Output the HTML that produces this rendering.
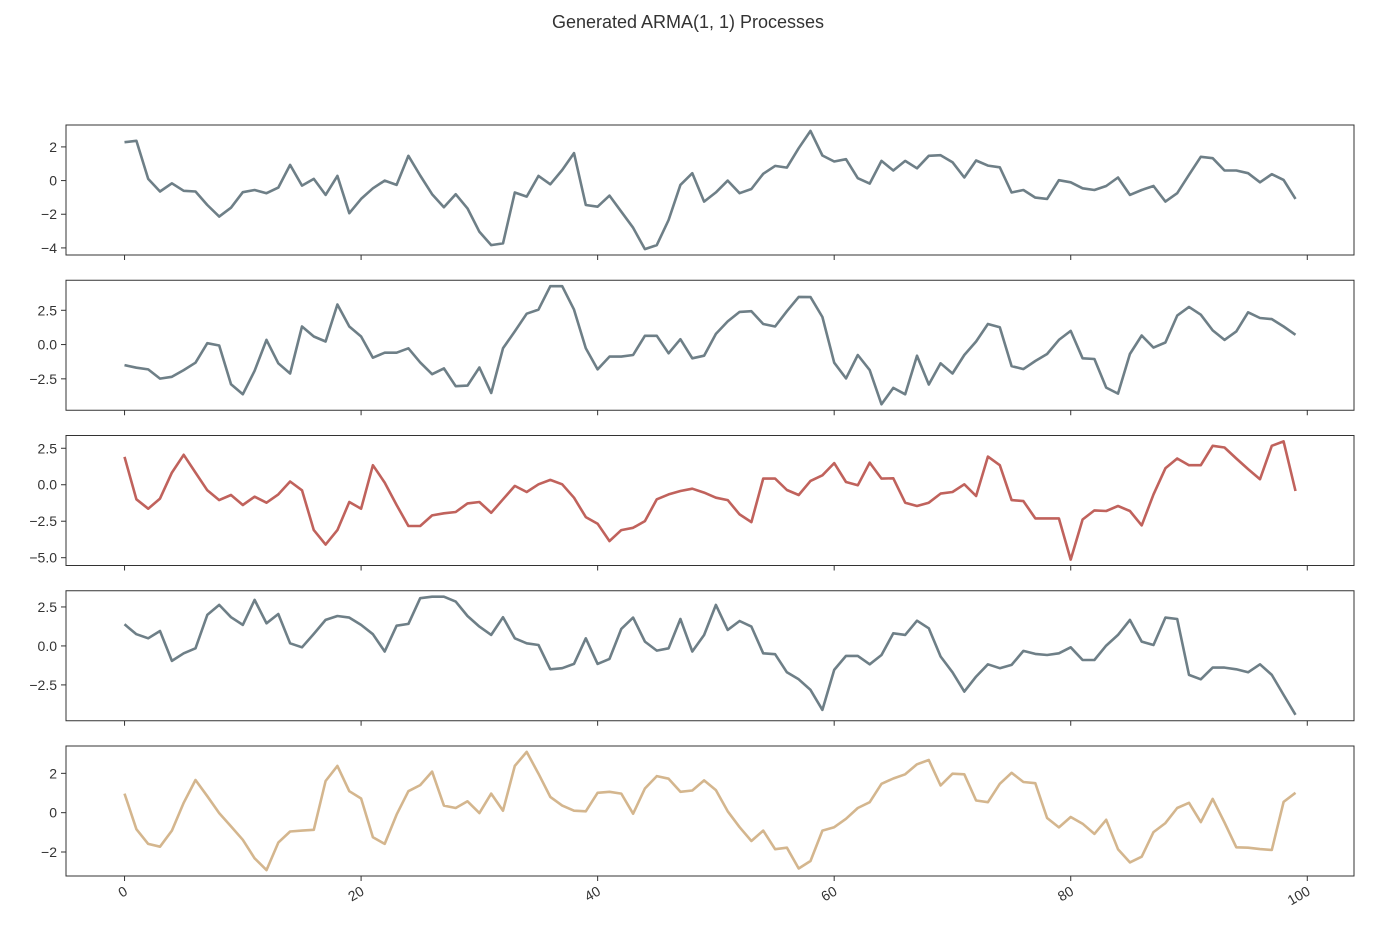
<!DOCTYPE html>
<html><head><meta charset="utf-8">
<style>
html,body{margin:0;padding:0;background:#fff;}
svg{display:block;font-family:"Liberation Sans","DejaVu Sans",sans-serif;}
</style></head>
<body>
<svg id="chart" width="1400" height="936" viewBox="0 0 1400 936" xmlns="http://www.w3.org/2000/svg">
<rect width="1400" height="936" fill="#fff"/>
<text x="688" y="28" text-anchor="middle" font-size="18" fill="#333">Generated ARMA(1, 1) Processes</text>
</svg>
<script>
const series1 = [2.28,2.36,0.10,-0.65,-0.16,-0.61,-0.65,-1.45,-2.14,-1.61,-0.69,-0.56,-0.75,-0.42,0.93,-0.30,0.10,-0.85,0.28,-1.94,-1.09,-0.46,0,-0.26,1.47,0.30,-0.81,-1.59,-0.81,-1.65,-3.04,-3.83,-3.73,-0.71,-0.95,0.28,-0.22,0.63,1.63,-1.45,-1.55,-0.89,-1.85,-2.8,-4.07,-3.83,-2.34,-0.26,0.44,-1.25,-0.7,0,-0.75,-0.5,0.4,0.87,0.77,1.92,2.95,1.49,1.13,1.27,0.14,-0.18,1.17,0.6,1.17,0.73,1.47,1.51,1.09,0.18,1.19,0.89,0.79,-0.71,-0.56,-1.01,-1.09,0.02,-0.1,-0.46,-0.56,-0.32,0.18,-0.85,-0.56,-0.32,-1.25,-0.75,0.34,1.41,1.33,0.6,0.6,0.44,-0.1,0.38,0.04,-1.09];
const series2 = [-1.5,-1.69,-1.81,-2.48,-2.35,-1.86,-1.32,0.1,-0.07,-2.89,-3.63,-1.91,0.34,-1.37,-2.11,1.32,0.59,0.22,2.92,1.32,0.59,-0.96,-0.59,-0.59,-0.27,-1.3,-2.16,-1.74,-3.04,-2.99,-1.67,-3.53,-0.27,0.96,2.25,2.55,4.26,4.26,2.55,-0.27,-1.81,-0.88,-0.88,-0.76,0.64,0.64,-0.64,0.39,-1.0,-0.81,0.78,1.69,2.38,2.43,1.5,1.32,2.43,3.48,3.46,2.01,-1.32,-2.47,-0.76,-1.86,-4.36,-3.16,-3.63,-0.81,-2.91,-1.37,-2.11,-0.76,0.22,1.5,1.27,-1.57,-1.79,-1.2,-0.69,0.34,1.0,-1.0,-1.05,-3.14,-3.58,-0.69,0.66,-0.22,0.15,2.11,2.75,2.18,1.03,0.34,0.96,2.35,1.94,1.86,1.32,0.71];
const series3 = [1.91,-1.0,-1.64,-0.95,0.83,2.05,0.83,-0.38,-1.05,-0.7,-1.39,-0.82,-1.23,-0.66,0.22,-0.38,-3.11,-4.1,-3.11,-1.18,-1.64,1.34,0.15,-1.39,-2.83,-2.83,-2.1,-1.96,-1.87,-1.28,-1.18,-1.92,-1.0,-0.08,-0.5,0.03,0.33,0.03,-0.89,-2.22,-2.67,-3.86,-3.11,-2.95,-2.49,-1.0,-0.66,-0.43,-0.27,-0.54,-0.89,-1.05,-2.03,-2.56,0.42,0.42,-0.36,-0.7,0.26,0.65,1.48,0.19,-0.04,1.52,0.42,0.44,-1.23,-1.46,-1.23,-0.61,-0.5,0.03,-0.77,1.93,1.34,-1.05,-1.12,-2.31,-2.31,-2.31,-5.13,-2.38,-1.76,-1.8,-1.46,-1.8,-2.79,-0.66,1.13,1.8,1.34,1.34,2.67,2.55,1.8,1.07,0.38,2.67,2.97,-0.43];
const series4 = [1.39,0.75,0.49,0.96,-0.96,-0.47,-0.15,1.99,2.63,1.84,1.35,2.95,1.45,2.05,0.17,-0.09,0.77,1.67,1.92,1.82,1.35,0.75,-0.36,1.3,1.41,3.06,3.16,3.16,2.84,1.92,1.24,0.71,1.84,0.49,0.17,0.06,-1.5,-1.43,-1.15,0.49,-1.15,-0.83,1.09,1.82,0.28,-0.3,-0.15,1.73,-0.36,0.7,2.63,1.03,1.6,1.24,-0.47,-0.53,-1.69,-2.14,-2.82,-4.1,-1.54,-0.64,-0.64,-1.18,-0.58,0.81,0.71,1.62,1.13,-0.68,-1.69,-2.93,-1.97,-1.18,-1.43,-1.22,-0.32,-0.51,-0.58,-0.47,-0.09,-0.9,-0.9,0.02,0.71,1.67,0.28,0.06,1.82,1.73,-1.86,-2.14,-1.39,-1.39,-1.5,-1.69,-1.18,-1.86,-3.14,-4.42];
const series5 = [0.97,-0.84,-1.59,-1.73,-0.91,0.5,1.66,0.84,-0.02,-0.7,-1.38,-2.32,-2.92,-1.52,-0.96,-0.91,-0.87,1.61,2.38,1.09,0.72,-1.25,-1.59,-0.1,1.09,1.4,2.09,0.36,0.24,0.58,-0.02,0.97,0.1,2.38,3.09,1.98,0.8,0.36,0.1,0.07,1.01,1.06,0.97,-0.05,1.23,1.86,1.73,1.06,1.13,1.64,1.15,0.07,-0.74,-1.44,-0.91,-1.86,-1.78,-2.84,-2.46,-0.91,-0.74,-0.31,0.24,0.53,1.47,1.74,1.95,2.46,2.68,1.38,1.98,1.95,0.62,0.53,1.47,2.03,1.56,1.5,-0.27,-0.75,-0.22,-0.56,-1.08,-0.36,-1.86,-2.53,-2.24,-0.99,-0.53,0.24,0.5,-0.48,0.7,-0.5,-1.76,-1.78,-1.85,-1.9,0.55,1.01];
const yTicks1 = [-4,-2,0,2];
const yTicks2 = [-2.5,0,2.5];
const yTicks3 = [-5,-2.5,0,2.5];
const yTicks4 = [-2.5,0,2.5];
const yTicks5 = [-2,0,2];
const xTicks = [0,20,40,60,80,100];

const NS = "http://www.w3.org/2000/svg";
const svg = document.getElementById('chart');
const L = 66, R = 1354, H = 130;
const tops = [125, 280.25, 435.5, 590.75, 746];
const colors = ['#6e7f87','#6e7f87','#c0625c','#6e7f87','#d4b68e'];
const allSeries = [series1,series2,series3,series4,series5];
const allTicks = [yTicks1,yTicks2,yTicks3,yTicks4,yTicks5];
const n = series1.length;
const xmin = -0.05*(n-1), xmax = (n-1)*1.05;
function xs(v){ return L + (v - xmin)/(xmax - xmin)*(R - L); }
function mk(tag, attrs){ const e = document.createElementNS(NS, tag); for (const k in attrs) e.setAttribute(k, attrs[k]); svg.appendChild(e); return e; }
function fmt(v){ return (Number.isInteger(v) && !allTicks.some(t=>t.some(x=>!Number.isInteger(x))&&t.includes(v)) ) ? String(v).replace('-','\u2212') : v.toFixed(1).replace('-','\u2212'); }

allSeries.forEach((data, p) => {
  const top = tops[p];
  const dmin = Math.min(...data), dmax = Math.max(...data);
  const pad = (dmax - dmin)*0.05;
  const y0 = dmin - pad, y1 = dmax + pad;
  const ys = v => top + H - (v - y0)/(y1 - y0)*H;
  const frame = mk('rect', {x:L, y:top, width:R-L, height:H, fill:'none', stroke:'#333', 'stroke-width':1});
  
  
  const ticks = allTicks[p];
  const decimal = ticks.some(t => !Number.isInteger(t));
  ticks.forEach(t => {
    const y = ys(t);
    const tk = mk('line', {x1:L-5, x2:L, y1:y, y2:y, stroke:'#333', 'stroke-width':1});
    
    
    const lbl = mk('text', {x:L-9, y:y+5, 'text-anchor':'end', 'font-size':14, fill:'#333'});
    lbl.textContent = (decimal ? t.toFixed(1) : String(t)).replace('-', '\u2212');
    
    
  });
  xTicks.forEach(t => {
    const x = xs(t);
    const tk = mk('line', {x1:x, x2:x, y1:top+H, y2:top+H+5, stroke:'#333', 'stroke-width':1});
    
    
  });
  const pts = data.map((v,i) => xs(i).toFixed(1) + ',' + ys(v).toFixed(1)).join(' ');
  const line = mk('polyline', {points:pts, fill:'none', stroke:colors[p], 'stroke-width':2.6, 'stroke-linejoin':'round'});
  
  
});
const bottom = tops[4] + H;
xTicks.forEach(t => {
  const x = xs(t);
  const lbl = mk('text', {x:x+4, y:bottom+18, 'text-anchor':'end', 'font-size':14, fill:'#333', transform:'rotate(-30 '+(x+4)+' '+(bottom+18)+')'});
  lbl.textContent = String(t);
  
  
});
</script>
</body></html>
